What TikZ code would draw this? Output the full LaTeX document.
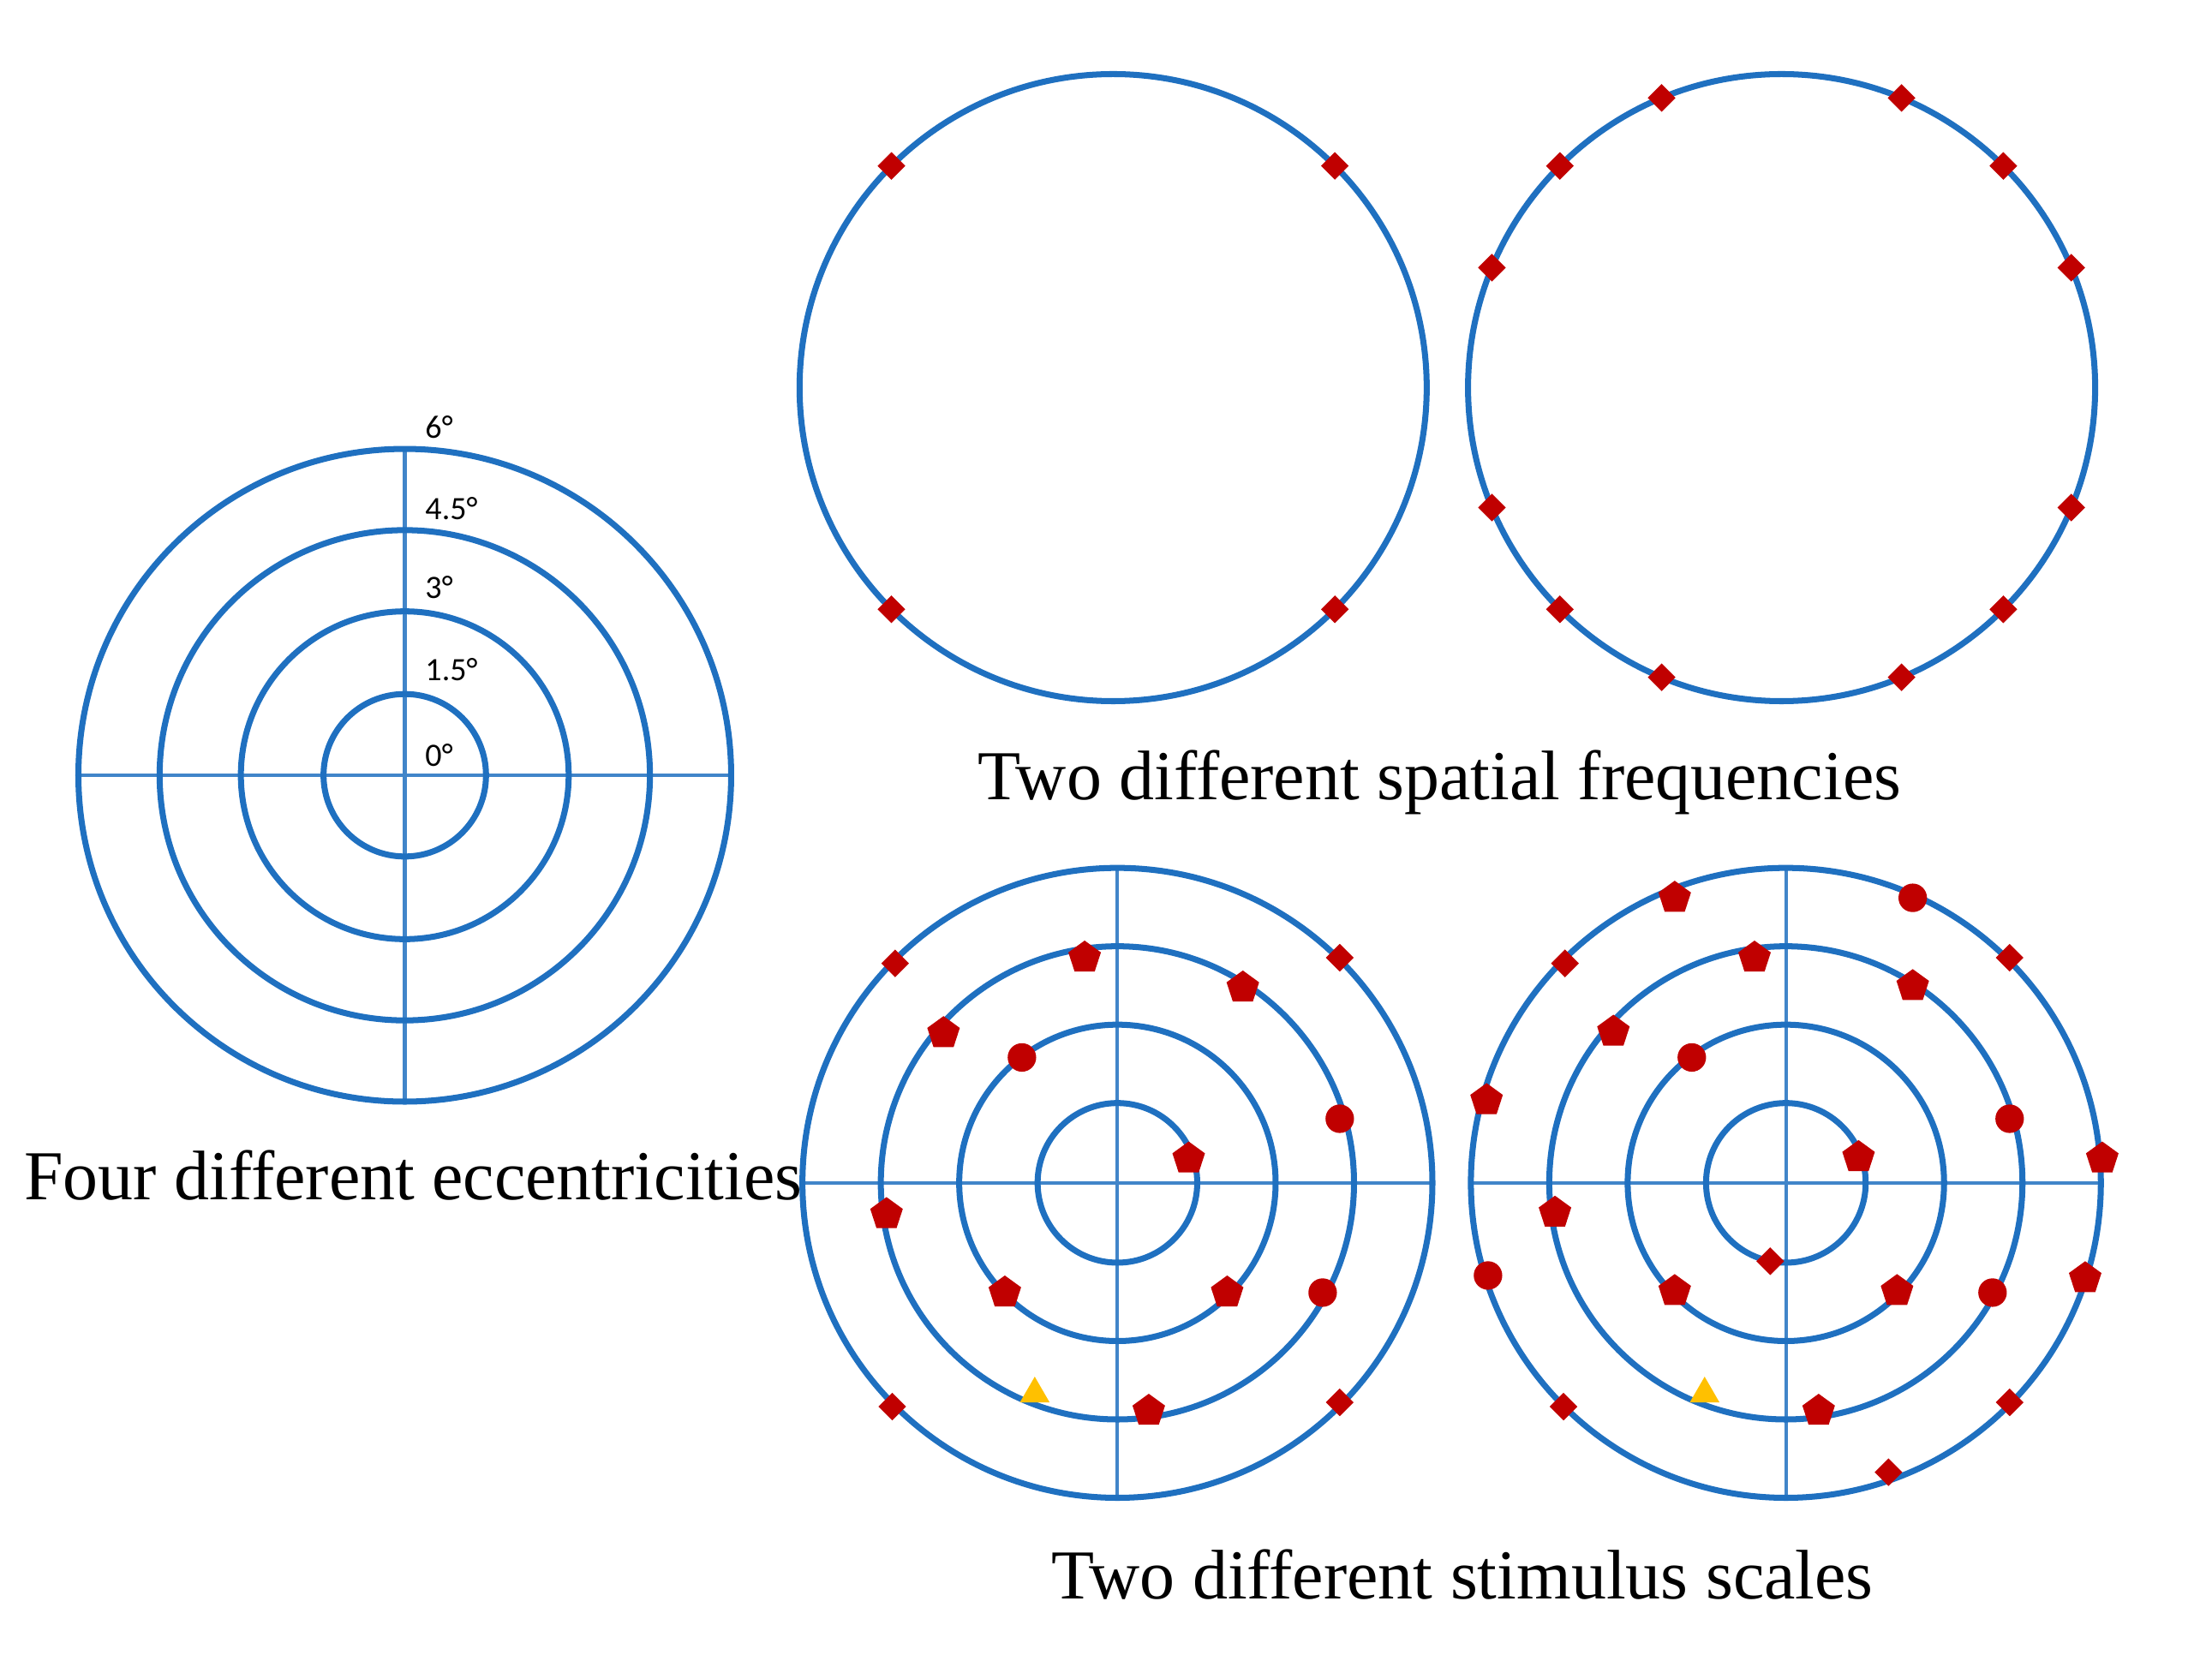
\documentclass[tikz,border=0pt]{standalone}
\usepackage{fontspec}
\setmainfont{Liberation Serif}
\newfontfamily\lab{Carlito}
\usetikzlibrary{shapes.geometric,calc}
\definecolor{cblue}{RGB}{31,112,192}
\definecolor{cred}{RGB}{192,0,0}
\definecolor{cyel}{RGB}{255,192,0}
\begin{document}
\begin{tikzpicture}[x=0.01cm,y=-0.01cm,
 ring/.style={draw=cblue,line width=1.2pt},
 axis/.style={draw=cblue!85!white,line width=0.7pt},
 dia/.style={diamond,fill=cred,inner sep=0pt,minimum size=0.2cm},
 pent/.style={regular polygon,regular polygon sides=5,fill=cred,inner sep=0pt,minimum size=0.24cm},
 dot/.style={circle,fill=cred,inner sep=0pt,minimum size=0.2cm},
 tri/.style={regular polygon,regular polygon sides=3,fill=cyel,inner sep=0pt,minimum size=0.24cm},
 title/.style={font=\fontsize{14}{16}\selectfont},
 deg/.style={font=\lab\fontsize{6.5}{7}\selectfont,anchor=west}]
\useasboundingbox (0,0) rectangle (1552,1165);
% left target
\draw[axis] (53,544) -- (514,544);
\draw[axis] (284,315) -- (284,773);
\foreach \r in {57,115,172,229} \draw[ring] (284,544) circle (\r);
\node[deg] (d6) at (286,300) {6°};
\node[deg] (d45) at (286,357) {4.5°};
\node[deg] (d3) at (286,412) {3°};
\node[deg] (d15) at (286,470) {1.5°};
\node[deg] (d0) at (286,530) {0°};
\node[title] (t1) at (290,825) {Four different eccentricities};
% top circles
\draw[ring] (781,272) circle (220);
\foreach \a [count=\i] in {45,135,225,315} \node[dia] (ta\i) at ($(781,272)+(\a:220 and -220)$) {};
\draw[ring] (1250,272) circle (220);
\foreach \a [count=\i] in {22.5,45,67.5,112.5,135,157.5,202.5,225,247.5,292.5,315,337.5}
  \node[dia] (tb\i) at ($(1250,272)+(\a:220 and -220)$) {};
\node[title] (t2) at (1010,549) {Two different spatial frequencies};
% bottom left
\draw[axis] (562,830) -- (1004,830);
\draw[axis] (784,610) -- (784,1052);
\foreach \r in {56,111,166,221} \draw[ring] (784,830) circle (\r);
\foreach \p [count=\i] in {(628,676),(940,672),(626,987),(940,984)} \node[dia] (ld\i) at \p {};
\foreach \p [count=\i] in {(761,672),(872,693),(662,725),(834,813),(622,852),(705,907),(861,907),(806,990)} \node[pent] (lp\i) at \p {};
\foreach \p [count=\i] in {(717,742),(940,785),(928,907)} \node[dot] (lc\i) at \p {};
\node[tri] (lt) at (726,978) {};
% bottom right
\draw[axis] (1032,830) -- (1474,830);
\draw[axis] (1253,610) -- (1253,1052);
\foreach \r in {56,111,166,221} \draw[ring] (1253,830) circle (\r);
\foreach \p [count=\i] in {(1098,676),(1410,672),(1242,885),(1097,987),(1410,984),(1325,1033)} \node[dia] (rd\i) at \p {};
\foreach \p [count=\i] in {(1175,630),(1231,672),(1342,692),(1132,724),(1043,772),(1475,813),(1304,812),(1091,851),(1175,906),(1331,906),(1463,897),(1276,990)} \node[pent] (rp\i) at \p {};
\foreach \p [count=\i] in {(1342,630),(1187,742),(1410,785),(1044,895),(1398,907)} \node[dot] (rc\i) at \p {};
\node[tri] (rt) at (1196,978) {};
\node[title] (t3) at (1026,1105) {Two different stimulus scales};
\end{tikzpicture}
\end{document}
